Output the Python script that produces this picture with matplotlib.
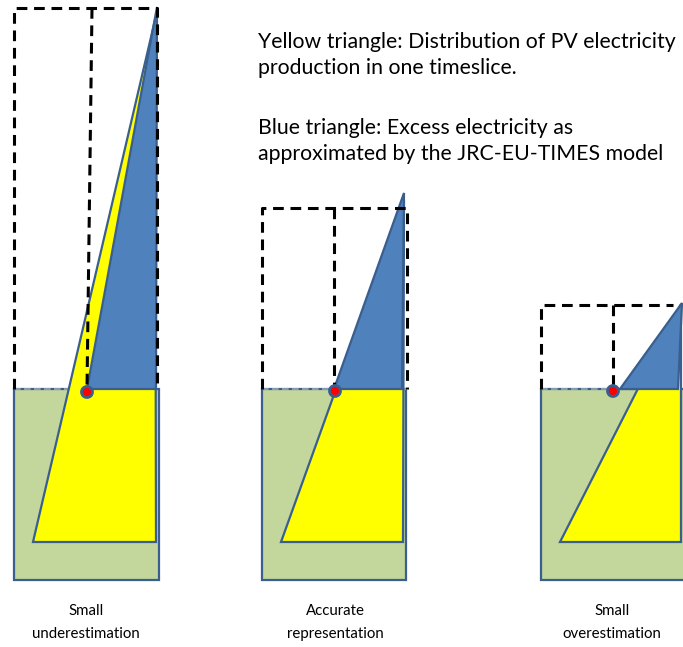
import matplotlib
matplotlib.use('Agg')
import matplotlib.pyplot as plt
from matplotlib.patches import Polygon, Rectangle, Circle

W, H = 683, 647

green = '#C3D69B'
yellow = '#FFFF00'
blue = '#4F81BD'
edge = '#3A5F8E'

# geometry of the three panels, in picture pixels (x, y from top)
green_boxes = [(14, 389, 159, 580), (262, 389, 406, 580), (541, 389, 690, 580)]
yellow_tris = [[(33, 542), (156, 542), (155, 20)],
               [(281, 542), (403, 542), (404, 200)],
               [(560, 542), (681, 542), (681, 304)]]
blue_tris = [[(87, 389), (156, 389), (157, 7)],
             [(334, 389), (402, 389), (404, 193)],
             [(620, 389), (678, 389), (682, 303)]]
dash_boxes = [(14, 8, 157, 389), (262, 208, 407, 389), (541, 305, 681, 389)]
dash_mid = [((92, 8), (87, 389)), ((334, 208), (334, 389)), ((613, 305), (613, 389))]
dots = [(87, 392), (335, 391), (613, 391)]
captions = [('Small', 'underestimation', 86), ('Accurate', 'representation', 335),
            ('Small', 'overestimation', 612)]
legend_lines = ['Yellow triangle: Distribution of PV electricity',
                'production in one timeslice.',
                'Blue triangle: Excess electricity as',
                'approximated by the JRC-EU-TIMES model']
legend_y = [42, 68, 128, 154]

fig = plt.figure(figsize=(W / 100, H / 100), dpi=100)
ax = fig.add_axes([0, 0, 1, 1])
ax.set_xlim(0, W)
ax.set_ylim(H, 0)
ax.axis('off')

for i in range(3):
    x0, y0, x1, y1 = green_boxes[i]
    ax.add_patch(Rectangle((x0, y0), x1 - x0, y1 - y0, fc=green, ec=edge, lw=1.6, zorder=1))
    ax.add_patch(Polygon(yellow_tris[i], closed=True, fc=yellow, ec=edge, lw=1.6, zorder=2))
    ax.add_patch(Polygon(blue_tris[i], closed=True, fc=blue, ec=edge, lw=1.6, zorder=3))
    x0, y0, x1, y1 = dash_boxes[i]
    if i < 2:
        ax.plot([x0, x0, x1, x1], [y1, y0, y0, y1], color='black', lw=2.2,
                dashes=(3.5, 2.2), zorder=4)
    else:
        ax.plot([x0, x0, x1 - 8], [y1, y0, y0], color='black', lw=2.2,
                dashes=(3.5, 2.2), zorder=4)
    (ax_, ay_), (bx_, by_) = dash_mid[i]
    ax.plot([ax_, bx_], [ay_, by_], color='black', lw=2.2, dashes=(3.5, 2.2), zorder=4)
    ax.plot([dash_boxes[i][0], dash_boxes[i][2]], [389, 389], color='#9AA8B8', lw=1.2,
            dashes=(4, 2), zorder=1.5)
    ax.add_patch(Circle(dots[i], 5.5, fc='red', ec=edge, lw=2, zorder=5))
    top, bottom, cx = captions[i]
    ax.text(cx, 611, top, ha='center', va='center', fontsize=10.8, family='Lato')
    ax.text(cx, 634, bottom, ha='center', va='center', fontsize=10.8, family='Lato')

for line, y in zip(legend_lines, legend_y):
    ax.text(258, y, line, ha='left', va='center', fontsize=15.3, family='Lato')

fig.savefig('out.png', dpi=100)
